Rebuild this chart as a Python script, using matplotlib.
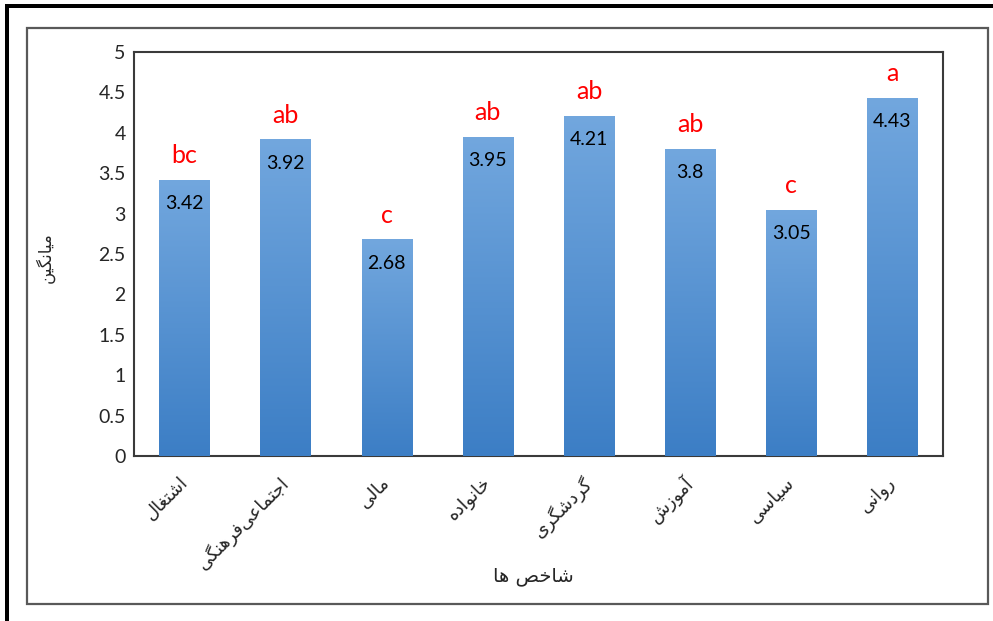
import numpy as np
import matplotlib
matplotlib.use("Agg")
import matplotlib.pyplot as plt
from matplotlib.colors import LinearSegmentedColormap
from matplotlib.patches import Rectangle

# ---------------- data ----------------
categories = ["اشتغال", "اجتماعی\u200cفرهنگی", "مالی", "خانواده",
              "گردشگری", "آموزش", "سیاسی", "روانی"]
values = [3.42, 3.92, 2.68, 3.95, 4.21, 3.80, 3.05, 4.43]
groups = ["bc", "ab", "c", "ab", "ab", "ab", "c", "a"]
y_ticks = [0, 0.5, 1, 1.5, 2, 2.5, 3, 3.5, 4, 4.5, 5]
y_label = "میانگین"
x_label = "شاخص ها"

# ------------- simple Persian shaping (matplotlib has no complex text layout) -------------
# (isolated, final, initial, medial)
FORMS = {
    'ا': ('\uFE8D', '\uFE8E', None, None),
    'آ': ('\uFE81', '\uFE82', None, None),
    'ب': ('\uFE8F', '\uFE90', '\uFE91', '\uFE92'),
    'ت': ('\uFE95', '\uFE96', '\uFE97', '\uFE98'),
    'ث': ('\uFE99', '\uFE9A', '\uFE9B', '\uFE9C'),
    'ج': ('\uFE9D', '\uFE9E', '\uFE9F', '\uFEA0'),
    'ح': ('\uFEA1', '\uFEA2', '\uFEA3', '\uFEA4'),
    'خ': ('\uFEA5', '\uFEA6', '\uFEA7', '\uFEA8'),
    'د': ('\uFEA9', '\uFEAA', None, None),
    'ذ': ('\uFEAB', '\uFEAC', None, None),
    'ر': ('\uFEAD', '\uFEAE', None, None),
    'ز': ('\uFEAF', '\uFEB0', None, None),
    'س': ('\uFEB1', '\uFEB2', '\uFEB3', '\uFEB4'),
    'ش': ('\uFEB5', '\uFEB6', '\uFEB7', '\uFEB8'),
    'ص': ('\uFEB9', '\uFEBA', '\uFEBB', '\uFEBC'),
    'ض': ('\uFEBD', '\uFEBE', '\uFEBF', '\uFEC0'),
    'ط': ('\uFEC1', '\uFEC2', '\uFEC3', '\uFEC4'),
    'ظ': ('\uFEC5', '\uFEC6', '\uFEC7', '\uFEC8'),
    'ع': ('\uFEC9', '\uFECA', '\uFECB', '\uFECC'),
    'غ': ('\uFECD', '\uFECE', '\uFECF', '\uFED0'),
    'ف': ('\uFED1', '\uFED2', '\uFED3', '\uFED4'),
    'ق': ('\uFED5', '\uFED6', '\uFED7', '\uFED8'),
    'ک': ('\uFB8E', '\uFB8F', '\uFB90', '\uFB91'),
    'گ': ('\uFB92', '\uFB93', '\uFB94', '\uFB95'),
    'ل': ('\uFEDD', '\uFEDE', '\uFEDF', '\uFEE0'),
    'م': ('\uFEE1', '\uFEE2', '\uFEE3', '\uFEE4'),
    'ن': ('\uFEE5', '\uFEE6', '\uFEE7', '\uFEE8'),
    'ه': ('\uFEE9', '\uFEEA', '\uFEEB', '\uFEEC'),
    'و': ('\uFEED', '\uFEEE', None, None),
    'ی': ('\uFBFC', '\uFBFD', '\uFBFE', '\uFBFF'),
}


def shape(text):
    chars = list(text)
    out = []
    for i, c in enumerate(chars):
        if c not in FORMS:
            if c != '\u200c':
                out.append(c)
            continue
        prev = chars[i - 1] if i > 0 else None
        nxt = chars[i + 1] if i + 1 < len(chars) else None
        join_prev = prev in FORMS and FORMS[prev][2] is not None
        join_next = FORMS[c][2] is not None and nxt in FORMS
        iso, fin, ini, med = FORMS[c]
        if join_prev and join_next:
            out.append(med)
        elif join_prev:
            out.append(fin)
        elif join_next:
            out.append(ini)
        else:
            out.append(iso)
    return ''.join(reversed(out))


# ---------------- figure ----------------
W, H = 993, 621
fig = plt.figure(figsize=(W / 100, H / 100), dpi=100)
fig.patch.set_facecolor("white")

# outer frame (black, left & top) and inner chart-area border (grey)
fig.patches.append(Rectangle((5 / W, 0), 4 / W, 1 - 4 / H, transform=fig.transFigure,
                             facecolor="black", edgecolor="none", zorder=0))
fig.patches.append(Rectangle((5 / W, 1 - 8 / H), 1 - 5 / W, 4 / H, transform=fig.transFigure,
                             facecolor="black", edgecolor="none", zorder=0))
fig.patches.append(Rectangle((27 / W, 1 - 604 / H), (988 - 27) / W, (604 - 28) / H,
                             transform=fig.transFigure, facecolor="none",
                             edgecolor="#595959", linewidth=1.6, zorder=0))

ax_l, ax_r, ax_t, ax_b = 134, 943, 52, 456
ax = fig.add_axes([ax_l / W, 1 - ax_b / H, (ax_r - ax_l) / W, (ax_b - ax_t) / H])

x = np.arange(len(categories))
bar_w = 0.5
bars = ax.bar(x, values, width=bar_w, color="#5390d2", edgecolor="none", zorder=2)

# vertical gradient fill (light top, darker bottom) like the Excel original
grad = np.linspace(0, 1, 256).reshape(-1, 1)
cmap = LinearSegmentedColormap.from_list("barg", ["#3c7ec5", "#72a7de"])
for b in bars:
    im = ax.imshow(grad, extent=[b.get_x(), b.get_x() + b.get_width(), 0, b.get_height()],
                   origin="lower", cmap=cmap, aspect="auto", zorder=3, interpolation="bilinear")
    im.set_clip_path(b)

ax.set_xlim(-0.5, len(categories) - 0.5)
ax.set_ylim(0, 5)
ax.set_yticks(y_ticks)
ax.set_yticklabels([f"{t:g}" for t in y_ticks], fontsize=14, family=["Lato", "DejaVu Sans"],
                   color="#262626")
ax.set_xticks(x)
ax.set_xticklabels([shape(c) for c in categories], rotation=45, ha="right", va="center",
                   rotation_mode="anchor", fontsize=13, family="DejaVu Sans", color="#262626")
ax.tick_params(axis="both", length=0)
ax.tick_params(axis="y", pad=6)
ax.tick_params(axis="x", pad=17)

for s in ax.spines.values():
    s.set_color("#3a3a3a")
    s.set_linewidth(1.5)

# value labels inside the bars and group letters above them
for xi, v, g in zip(x, values, groups):
    ax.annotate(f"{v:g}", (xi, v), xytext=(0, -11), textcoords="offset points",
                ha="center", va="top", fontsize=14, family=["Lato", "DejaVu Sans"],
                color="black", zorder=5)
    ax.annotate(g, (xi, v), xytext=(0, 12), textcoords="offset points",
                ha="center", va="baseline", fontsize=18, family=["Lato", "DejaVu Sans"],
                color="#ff0000", zorder=5)

fig.text(45 / W, 1 - 258 / H, shape(y_label), rotation=90, ha="center", va="center",
         fontsize=12, family="DejaVu Sans", color="#262626")
fig.text(533 / W, 1 - 577 / H, shape(x_label), ha="center", va="center",
         fontsize=14, family="DejaVu Sans", color="#262626")

fig.savefig("out.png", dpi=100)
